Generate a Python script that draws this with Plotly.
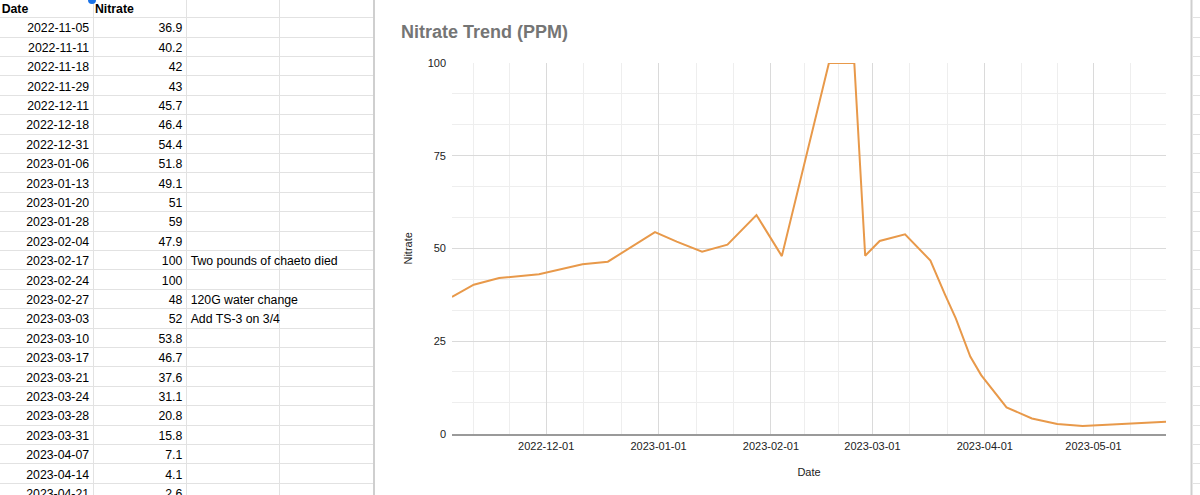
import plotly.graph_objects as go
import pandas as pd

# ---------------- data ----------------
dates = ["2022-11-05", "2022-11-11", "2022-11-18", "2022-11-29", "2022-12-11",
         "2022-12-18", "2022-12-31", "2023-01-06", "2023-01-13", "2023-01-20",
         "2023-01-28", "2023-02-04", "2023-02-17", "2023-02-24", "2023-02-27",
         "2023-03-03", "2023-03-10", "2023-03-17", "2023-03-21", "2023-03-24",
         "2023-03-28", "2023-03-31", "2023-04-07", "2023-04-14", "2023-04-21",
         "2023-04-28", "2023-05-21"]
nitrate = [36.9, 40.2, 42, 43, 45.7, 46.4, 54.4, 51.8, 49.1, 51, 59, 47.9, 100, 100,
           48, 52, 53.8, 46.7, 37.6, 31.1, 20.8, 15.8, 7.1, 4.1, 2.6, 2.1, 3.2]
notes = {"2023-02-17": "Two pounds of chaeto died",
         "2023-02-27": "120G water change",
         "2023-03-03": "Add TS-3 on 3/4"}
headers = ["Date", "Nitrate"]
x_tick_start = "2022-12-01"
y_ticks = [0, 25, 50, 75, 100]

# ---------------- helpers ----------------
W, H = 1200, 495
def px(x):
    return x / W
def py(y):  # y measured from top
    return 1 - y / H

FONT = "Arial, 'Liberation Sans', Helvetica, sans-serif"
TXT = 12.3
HDR_BOTTOM = 17.7   # px, bottom edge of header row
ROW_H = 19.4        # px per sheet row
TEXT_DROP = 2.0     # px, vertical text nudge inside cells
GRID = "#e2e2e2"

n = len(dates)
rows = list(range(1, n + 1))          # sheet row index (header = 0)
val_txt = [f"{v:g}" for v in nitrate]
note_rows = [i + 1 for i, d in enumerate(dates) if d in notes]
note_txt = [notes[d] for d in dates if d in notes]

# sheet row axis: row r spans [r-0.5, r+0.5]
u_top = 0.5 - HDR_BOTTOM / ROW_H
u_bot = 0.5 + (H - HDR_BOTTOM) / ROW_H
row_lines = [r + 0.5 for r in range(0, n + 1)]
d_txt = TEXT_DROP / ROW_H

fig = go.Figure()

def sheet_text(xs, ys, texts, pos, pad_size):
    fig.add_trace(go.Scatter(
        x=xs, y=ys, text=texts, mode="markers+text", textposition=pos,
        marker=dict(size=pad_size, opacity=0),
        textfont=dict(family=FONT, size=TXT, color="#000000"),
        xaxis="x2", yaxis="y3", showlegend=False, hoverinfo="skip",
        cliponaxis=True))

# header row (bold, left aligned)
sheet_text([0, 1], [0, 0], [f"<b>{h}</b>" for h in headers], "middle right", 1)
# date column (right aligned in column 1)
sheet_text([1] * n, rows, dates, "middle left", 5)
# nitrate column (right aligned in column 2)
sheet_text([2] * n, rows, val_txt, "middle left", 5)
# notes column (left aligned from column 3)
sheet_text([2] * len(note_rows), note_rows, note_txt, "middle right", 5)

# grid-only subplots of the sheet
fig.add_trace(go.Scatter(x=[None], y=[None], mode="lines", xaxis="x2", yaxis="y2",
                         showlegend=False, hoverinfo="skip"))
fig.add_trace(go.Scatter(x=[None], y=[None], mode="lines", xaxis="x3", yaxis="y2",
                         showlegend=False, hoverinfo="skip"))

# chart
fig.add_trace(go.Scatter(
    x=pd.to_datetime(dates), y=nitrate, mode="lines",
    line=dict(color="#e8994a", width=2), cliponaxis=False,
    showlegend=False, hoverinfo="x+y",
))

# minor x grid: thirds of each month
minor_x = []
for m in pd.date_range("2022-11-01", "2023-06-01", freq="MS"):
    days = m.days_in_month
    for k in (1, 2):
        minor_x.append(m + pd.Timedelta(days=days * k / 3))

sheet_axis = dict(showticklabels=False, ticks="", zeroline=False, showline=False,
                  fixedrange=True, automargin=False)

fig.update_layout(
    width=W, height=H,
    margin=dict(l=0, r=0, t=0, b=0, autoexpand=False),
    paper_bgcolor="white", plot_bgcolor="rgba(0,0,0,0)",
    font=dict(family=FONT, color="#222222"),
    title=dict(text="<b>Nitrate Trend (PPM)</b>", x=px(401), xanchor="left",
               y=py(32), yanchor="middle", automargin=False,
               font=dict(family=FONT, size=18, color="#757575")),
    xaxis=dict(
        domain=[px(452), px(1166)],
        range=[pd.Timestamp(dates[0]), pd.Timestamp(dates[-1])],
        tickmode="linear", tick0=x_tick_start, dtick="M1", tickformat="%Y-%m-%d",
        tickfont=dict(size=11, color="#222222"), ticklabelstandoff=1,
        showgrid=True, gridcolor="#dadada", gridwidth=1,
        minor=dict(tickmode="array", tickvals=minor_x, showgrid=True,
                   gridcolor="#eeeeee", gridwidth=1),
        showline=True, linecolor="#9a9a9a", linewidth=1.5,
        ticks="", zeroline=False, automargin=False,
        title=dict(text="Date", font=dict(size=11, color="#222222"), standoff=18),
    ),
    yaxis=dict(
        domain=[py(433.7), py(63)],
        range=[0, 100], tickmode="array", tickvals=y_ticks,
        tickfont=dict(size=11, color="#222222"), ticklabelstandoff=5,
        showgrid=True, gridcolor="#dadada", gridwidth=1,
        minor=dict(tick0=0, dtick=25 / 3, showgrid=True, gridcolor="#eeeeee",
                   gridwidth=1),
        ticks="", zeroline=False, automargin=False,
        title=dict(text="Nitrate", font=dict(size=11, color="#222222"), standoff=12),
    ),
    xaxis2=dict(domain=[0, px(373)], range=[0, 4], anchor="y2",
                tickmode="array", tickvals=[1, 2, 3], showgrid=True,
                gridcolor=GRID, gridwidth=1, **sheet_axis),
    xaxis3=dict(domain=[px(1193), 1], range=[0, 1], anchor="y2",
                tickmode="array", tickvals=[], showgrid=False, **sheet_axis),
    yaxis2=dict(domain=[0, 1], range=[u_bot, u_top], anchor="x2",
                tickmode="array", tickvals=row_lines, showgrid=True,
                gridcolor=GRID, gridwidth=1, **sheet_axis),
    yaxis3=dict(domain=[0, 1], range=[u_bot - d_txt, u_top - d_txt], anchor="x2",
                overlaying="y2", showgrid=False, **sheet_axis),
    shapes=[
        dict(type="line", xref="paper", yref="paper", x0=px(374), x1=px(374),
             y0=0, y1=1, line=dict(color="#cfcfcf", width=2)),
        dict(type="line", xref="paper", yref="paper", x0=px(1191.5), x1=px(1191.5),
             y0=0, y1=1, line=dict(color="#cfcfcf", width=2)),
        dict(type="circle", xref="paper", yref="paper", x0=px(88), x1=px(96),
             y0=py(4), y1=py(-4), fillcolor="#1a73e8", line=dict(width=0)),
    ],
)

fig.write_html("out.html")
